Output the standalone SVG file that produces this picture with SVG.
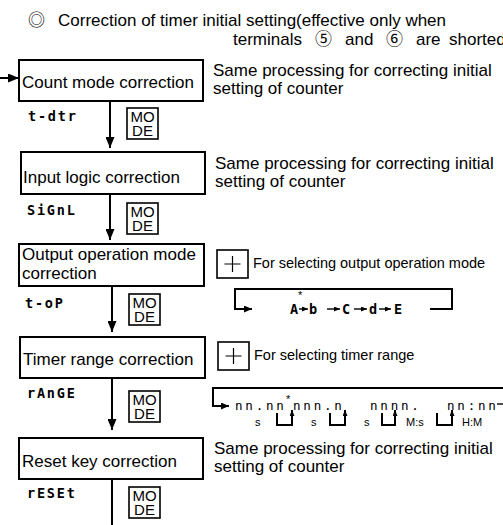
<svg xmlns="http://www.w3.org/2000/svg" width="503" height="525" viewBox="0 0 503 525">
<style>
  .box{fill:#fff;stroke:#000;stroke-width:2}
  .key{fill:#fff;stroke:#000;stroke-width:1.6}
  .ln{fill:none;stroke:#000;stroke-width:2}
  .thin{fill:none;stroke:#000;stroke-width:1.4}
  .t{font-family:"Liberation Sans",Arial,"Noto Sans CJK JP",sans-serif;font-size:17px;fill:#000}
  .ts{font-family:"Liberation Sans",Arial,sans-serif;font-size:14.5px;fill:#000}
  .tk{font-family:"Liberation Sans",Arial,sans-serif;font-size:15px;fill:#000;text-anchor:middle}
  .tl{font-family:"Liberation Sans",Arial,sans-serif;font-size:11px;fill:#000}
  .seg{font-family:"DejaVu Sans Mono",monospace;font-size:13.5px;font-weight:bold;fill:#000;letter-spacing:1.8px}
  .segs{font-family:"DejaVu Sans Mono",monospace;font-size:12.5px;fill:#000;letter-spacing:2.8px}
</style>
<defs>
  <marker id="ah" markerUnits="userSpaceOnUse" markerWidth="11" markerHeight="9" refX="11" refY="4.5" orient="auto">
    <path d="M0,0 L11,4.5 L0,9 z" fill="#000"/>
  </marker>
  <marker id="as" markerUnits="userSpaceOnUse" markerWidth="6" markerHeight="5" refX="6" refY="2.5" orient="auto">
    <path d="M0,0 L6,2.5 L0,5 z" fill="#000"/>
  </marker>
  <marker id="am" markerUnits="userSpaceOnUse" markerWidth="8" markerHeight="7" refX="8" refY="3.5" orient="auto">
    <path d="M0,0 L8,3.5 L0,7 z" fill="#000"/>
  </marker>
  <g id="modekey">
    <rect class="key" x="0" y="0" width="31" height="31"/>
    <text class="tk" x="15.5" y="13.5">MO</text>
    <text class="tk" x="15.5" y="28">DE</text>
  </g>
  <g id="pluskey">
    <rect class="key" x="0" y="0" width="31" height="28"/>
    <path d="M15.5,6 V22 M7.5,14 H23.5" stroke="#000" stroke-width="1.2"/>
  </g>
</defs>
<rect width="503" height="525" fill="#fff"/>

<g id="header">
  <text class="t" x="28" y="26">◎</text>
  <text class="t" x="58" y="26">Correction of timer initial setting(effective only when</text>
  <text class="t" x="233" y="45">terminals</text>
  <text class="t" x="315" y="45">⑤</text>
  <text class="t" x="345" y="45">and</text>
  <text class="t" x="386" y="45">⑥</text>
  <text class="t" x="416" y="45">are</text>
  <text class="t" x="449" y="45">shorted</text>
</g>

<g id="connectors">
  <line class="ln" x1="0" y1="78" x2="19" y2="78" marker-end="url(#ah)"/>
  <line class="ln" x1="110" y1="101" x2="110" y2="148" marker-end="url(#ah)"/>
  <line class="ln" x1="110" y1="194" x2="110" y2="240" marker-end="url(#ah)"/>
  <line class="ln" x1="112" y1="286" x2="112" y2="332" marker-end="url(#ah)"/>
  <line class="ln" x1="112" y1="378" x2="112" y2="430" marker-end="url(#ah)"/>
  <line class="ln" x1="112" y1="479" x2="112" y2="525"/>
</g>

<g id="count-mode">
  <rect class="box" x="19" y="60" width="184" height="41"/>
  <text class="t" x="22" y="88">Count mode correction</text>
  <text class="seg" x="28" y="121">t-dtr</text>
  <use href="#modekey" x="127" y="108"/>
  <text class="t" x="213" y="76">Same processing for correcting initial</text>
  <text class="t" x="213" y="94">setting of counter</text>
</g>

<g id="input-logic">
  <rect class="box" x="21" y="152" width="184" height="42"/>
  <text class="t" x="23" y="183">Input logic correction</text>
  <text class="seg" x="27" y="215">SiGnL</text>
  <use href="#modekey" x="127" y="203"/>
  <text class="t" x="215" y="168.5">Same processing for correcting initial</text>
  <text class="t" x="215" y="187">setting of counter</text>
</g>

<g id="output-mode">
  <rect class="box" x="19" y="244" width="185" height="42"/>
  <text class="t" x="22" y="260">Output operation mode</text>
  <text class="t" x="22" y="279">correction</text>
  <text class="seg" x="25" y="308">t-oP</text>
  <use href="#modekey" x="129" y="294"/>
  <use href="#pluskey" x="217" y="250"/>
  <text class="ts" x="253" y="268">For selecting output operation mode</text>
  <path class="ln" d="M430,309 H452 V289 H235 V309 H252" marker-end="url(#am)"/>
  <text class="seg" y="314"><tspan x="290">A</tspan><tspan x="309">b</tspan><tspan x="342">C</tspan><tspan x="369">d</tspan><tspan x="394">E</tspan></text>
  <text class="tl" x="298" y="299" font-size="10">*</text>
  <line class="thin" x1="299" y1="309" x2="308" y2="309" marker-end="url(#as)"/>
  <line class="thin" x1="327" y1="309" x2="340" y2="309" marker-end="url(#as)"/>
  <line class="thin" x1="354" y1="309" x2="367" y2="309" marker-end="url(#as)"/>
  <line class="thin" x1="379" y1="309" x2="391" y2="309" marker-end="url(#as)"/>
</g>

<g id="timer-range">
  <rect class="box" x="20" y="337" width="185" height="41"/>
  <text class="t" x="23" y="365">Timer range correction</text>
  <text class="seg" x="27" y="398">rAnGE</text>
  <use href="#modekey" x="129" y="391"/>
  <use href="#pluskey" x="218" y="342"/>
  <text class="ts" x="254" y="360">For selecting timer range</text>
  <path class="ln" d="M503,388 H213 V406 H229" marker-end="url(#am)"/>
  <text class="segs" x="235" y="410">nn.nn</text>
  <text class="tl" x="286" y="403" font-size="10">*</text>
  <text class="segs" x="293" y="410">nnn.n</text>
  <text class="segs" x="370" y="410">nnnn.</text>
  <text class="segs" x="447" y="410">nn:nn</text>
  <line class="thin" x1="497" y1="404" x2="503" y2="404"/>
  <path class="ln" d="M277,413 V425 H292 V410" marker-end="url(#as)"/>
  <path class="ln" d="M330,413 V425 H345 V410" marker-end="url(#as)"/>
  <path class="ln" d="M382,413 V425 H395 V410" marker-end="url(#as)"/>
  <path class="ln" d="M437,413 V425 H452 V410" marker-end="url(#as)"/>
  <text class="tl" x="255" y="426">s</text>
  <text class="tl" x="311" y="426">s</text>
  <text class="tl" x="364" y="426">s</text>
  <text class="tl" x="406" y="426">M:s</text>
  <text class="tl" x="462" y="426">H:M</text>
</g>

<g id="reset-key">
  <rect class="box" x="19" y="438" width="184" height="41"/>
  <text class="t" x="22" y="467">Reset key correction</text>
  <text class="seg" x="27" y="498">rESEt</text>
  <use href="#modekey" x="129" y="487"/>
  <text class="t" x="214" y="453.5">Same processing for correcting initial</text>
  <text class="t" x="214" y="472">setting of counter</text>
</g>
</svg>
